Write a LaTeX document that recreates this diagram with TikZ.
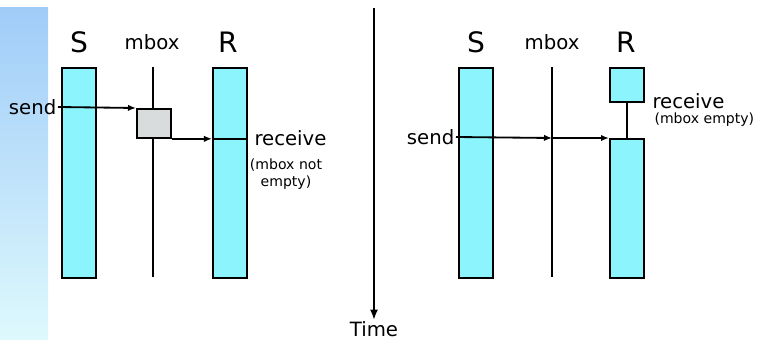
\documentclass[tikz,border=0pt]{standalone}
\usepackage{fontspec}
\setmainfont{DejaVu Sans}
\definecolor{mbcyan}{RGB}{140,244,252}
\definecolor{mbgray}{RGB}{216,220,220}
\definecolor{mbstriptop}{RGB}{160,204,248}
\definecolor{mbstripbot}{RGB}{222,249,253}
\usetikzlibrary{arrows.meta,positioning,calc}
\tikzset{
    bar/.style={
        draw=black, line width=1.3pt, fill=#1, inner sep=0pt,
        minimum width=.85cm, anchor=north west
    },
    bar/.default=mbcyan,
    head/.style={font=\fontsize{20}{22}\selectfont},
    lbl/.style={font=\fontsize{14}{16}\selectfont, inner sep=1pt},
    note/.style={font=\fontsize{10}{12.5}\selectfont, align=center, inner sep=1pt},
    arrow/.style={
        -{Latex[length=2mm,width=1.6mm]}, line width=1.3pt
    },
    lane/.style={line width=1.3pt}
}
\begin{document}
\begin{tikzpicture}[x=0.025cm,y=-0.025cm]
\useasboundingbox (0,0) rectangle (759,340);
\shade[top color=mbstriptop, bottom color=mbstripbot] (0,8) rectangle (48,340);
% left panel: mbox not empty
\node[head] (hs1) at (79,42) {S};
\node[lbl] (hm1) at (152,42) {mbox};
\node[head] (hr1) at (228,42) {R};
\coordinate (m1a) at (153,67);
\coordinate (m1b) at (153,277);
\draw[lane] (m1a)--(m1b);
\node[bar, minimum height=5.25cm] (s1) at (61,67) {};
\node[bar, minimum height=5.25cm] (r1) at (212,67) {};
\node[bar=mbgray, minimum height=.725cm] (b1) at (136,108) {};
\node[lbl, anchor=east] (snd1) at (58,107) {send};
\draw[arrow] (snd1.east) -- (b1.north west);
\draw[arrow] (b1.south east) -- (r1.west |- b1.south east);
\draw[lane] (r1.west |- b1.south east) -- (r1.east |- b1.south east);
\node[lbl, anchor=west] (rcv1) at ($(r1.east |- b1.south east)+(5,-1)$) {receive};
\node[note] (nt1) at (286,174) {(mbox not\\empty)};
% time axis
\coordinate (t0) at (374,8);
\node[lbl, anchor=north] (time) at (374,320) {Time};
\draw[arrow, -{Latex[length=2.6mm,width=2mm]}] (t0) -- (time.north);
% right panel: mbox empty
\node[head] (hs2) at (476,42) {S};
\node[lbl] (hm2) at (552,42) {mbox};
\node[head] (hr2) at (626,42) {R};
\coordinate (m2a) at (552,67);
\coordinate (m2b) at (552,277);
\draw[lane] (m2a)--(m2b);
\node[bar, minimum height=5.25cm] (s2) at (458,67) {};
\node[bar, minimum height=.85cm] (r2a) at (609,67) {};
\node[bar, minimum height=3.475cm] (r2b) at (609,138) {};
\draw[lane] (r2a.south) -- (r2b.north);
\node[lbl, anchor=east] (snd2) at (456,137) {send};
\draw[arrow] (snd2.east) -- (m2a |- r2b.north west);
\draw[arrow] (m2a |- r2b.north west) -- (r2b.north west);
\node[lbl, anchor=west] (rcv2) at ($(r2a.south east)+(6,-2)$) {receive};
\node[note, anchor=north west] (nt2) at ($(rcv2.south west)+(2,1)$) {(mbox empty)};
\end{tikzpicture}
\end{document}
